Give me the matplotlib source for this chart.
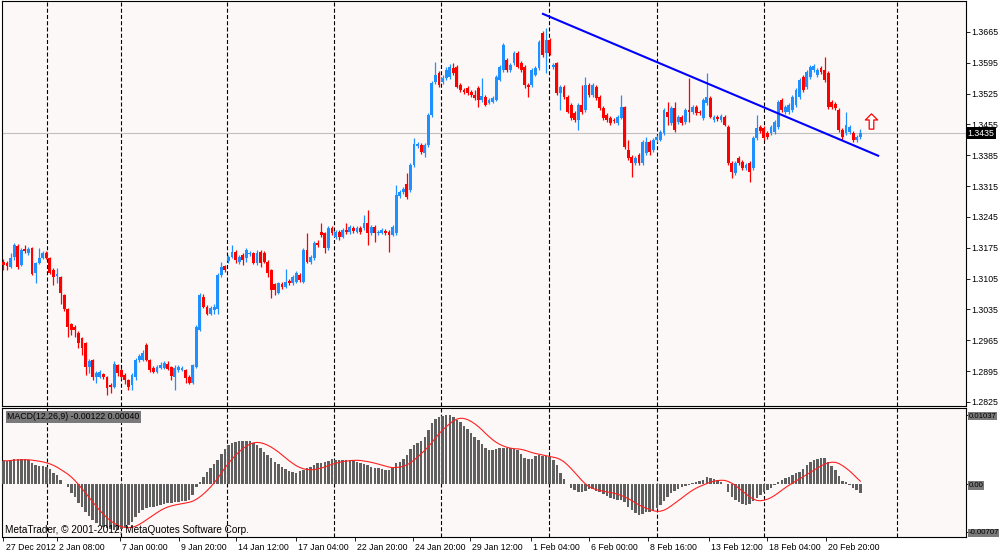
import matplotlib
matplotlib.use('Agg')
import matplotlib.pyplot as plt
import matplotlib.transforms as mtransforms
from matplotlib.path import Path
import numpy as np
import pandas as pd

# --- H4 свечи (O/H/L/C) ---
opens = [
    1.3143, 1.3140, 1.3131, 1.3154, 1.3179, 1.3136, 1.3172, 1.3163, 1.3175, 1.3118,
    1.3140, 1.3152, 1.3163, 1.3152, 1.3125, 1.3111, 1.3109, 1.3068, 1.3036, 1.3002,
    1.2995, 1.2982, 1.2970, 1.2959, 1.2904, 1.2920, 1.2882, 1.2882, 1.2889, 1.2882,
    1.2864, 1.2859, 1.2909, 1.2898, 1.2886, 1.2875, 1.2864, 1.2882, 1.2920, 1.2920,
    1.2954, 1.2920, 1.2902, 1.2893, 1.2902, 1.2902, 1.2911, 1.2904, 1.2882, 1.2898,
    1.2898, 1.2898, 1.2882, 1.2868, 1.2904, 1.2988, 1.3063, 1.3041, 1.3025, 1.3034,
    1.3036, 1.3113, 1.3134, 1.3145, 1.3154, 1.3165, 1.3143, 1.3159, 1.3152, 1.3161,
    1.3163, 1.3140, 1.3165, 1.3163, 1.3143, 1.3125, 1.3093, 1.3072, 1.3093, 1.3086,
    1.3100, 1.3095, 1.3097, 1.3113, 1.3097, 1.3170, 1.3143, 1.3152, 1.3186, 1.3211,
    1.3209, 1.3175, 1.3220, 1.3200, 1.3211, 1.3200, 1.3215, 1.3211, 1.3220, 1.3211,
    1.3220, 1.3220, 1.3231, 1.3209, 1.3222, 1.3209, 1.3209, 1.3213, 1.3211, 1.3204,
    1.3209, 1.3293, 1.3302, 1.3320, 1.3306, 1.3363, 1.3406, 1.3408, 1.3390, 1.3408,
    1.3476, 1.3551, 1.3572, 1.3551, 1.3560, 1.3563, 1.3583, 1.3585, 1.3545, 1.3533,
    1.3538, 1.3529, 1.3522, 1.3538, 1.3510, 1.3517, 1.3504, 1.3506, 1.3510, 1.3556,
    1.3579, 1.3601, 1.3579, 1.3594, 1.3617, 1.3594, 1.3585, 1.3545, 1.3545, 1.3567,
    1.3583, 1.3663, 1.3617, 1.3647, 1.3585, 1.3594, 1.3526, 1.3540, 1.3517, 1.3499,
    1.3481, 1.3465, 1.3499, 1.3488, 1.3545, 1.3522, 1.3540, 1.3517, 1.3492, 1.3476,
    1.3470, 1.3465, 1.3458, 1.3470, 1.3495, 1.3397, 1.3381, 1.3368, 1.3386, 1.3368,
    1.3390, 1.3415, 1.3397, 1.3420, 1.3420, 1.3436, 1.3483, 1.3458, 1.3492, 1.3461,
    1.3472, 1.3461, 1.3488, 1.3483, 1.3495, 1.3483, 1.3470, 1.3504, 1.3515, 1.3465,
    1.3472, 1.3465, 1.3472, 1.3449, 1.3368, 1.3345, 1.3379, 1.3370, 1.3356, 1.3368,
    1.3356, 1.3424, 1.3449, 1.3447, 1.3436, 1.3436, 1.3438, 1.3449, 1.3510, 1.3483,
    1.3483, 1.3488, 1.3499, 1.3517, 1.3563, 1.3540, 1.3563, 1.3579, 1.3567, 1.3583,
    1.3579, 1.3572, 1.3506, 1.3501, 1.3488, 1.3442, 1.3436, 1.3438, 1.3436, 1.3420,
    1.3427,
]
highs = [
    1.3150, 1.3145, 1.3163, 1.3186, 1.3184, 1.3175, 1.3181, 1.3177, 1.3177, 1.3143,
    1.3175, 1.3168, 1.3168, 1.3154, 1.3129, 1.3129, 1.3111, 1.3070, 1.3038, 1.3004,
    1.3000, 1.2986, 1.2972, 1.2961, 1.2923, 1.2923, 1.2895, 1.2898, 1.2891, 1.2884,
    1.2868, 1.2918, 1.2911, 1.2902, 1.2891, 1.2877, 1.2891, 1.2925, 1.2934, 1.2943,
    1.2959, 1.2923, 1.2907, 1.2909, 1.2916, 1.2918, 1.2918, 1.2907, 1.2909, 1.2909,
    1.2907, 1.2900, 1.2886, 1.2911, 1.3000, 1.3072, 1.3070, 1.3045, 1.3043, 1.3047,
    1.3118, 1.3143, 1.3136, 1.3159, 1.3181, 1.3170, 1.3159, 1.3163, 1.3175, 1.3168,
    1.3165, 1.3170, 1.3170, 1.3168, 1.3147, 1.3127, 1.3095, 1.3097, 1.3097, 1.3127,
    1.3104, 1.3113, 1.3122, 1.3118, 1.3175, 1.3209, 1.3159, 1.3190, 1.3193, 1.3231,
    1.3211, 1.3224, 1.3224, 1.3215, 1.3215, 1.3220, 1.3231, 1.3227, 1.3224, 1.3224,
    1.3224, 1.3249, 1.3261, 1.3227, 1.3227, 1.3215, 1.3220, 1.3218, 1.3215, 1.3227,
    1.3318, 1.3306, 1.3313, 1.3345, 1.3368, 1.3424, 1.3415, 1.3413, 1.3413, 1.3481,
    1.3554, 1.3597, 1.3576, 1.3567, 1.3585, 1.3592, 1.3594, 1.3590, 1.3549, 1.3538,
    1.3542, 1.3533, 1.3533, 1.3542, 1.3560, 1.3522, 1.3515, 1.3520, 1.3567, 1.3590,
    1.3640, 1.3606, 1.3594, 1.3622, 1.3622, 1.3599, 1.3590, 1.3549, 1.3583, 1.3588,
    1.3647, 1.3667, 1.3674, 1.3651, 1.3594, 1.3597, 1.3545, 1.3545, 1.3522, 1.3504,
    1.3486, 1.3504, 1.3545, 1.3563, 1.3549, 1.3549, 1.3545, 1.3522, 1.3497, 1.3481,
    1.3474, 1.3470, 1.3476, 1.3522, 1.3497, 1.3420, 1.3386, 1.3383, 1.3390, 1.3420,
    1.3427, 1.3420, 1.3424, 1.3431, 1.3442, 1.3492, 1.3506, 1.3497, 1.3506, 1.3476,
    1.3476, 1.3492, 1.3560, 1.3499, 1.3499, 1.3488, 1.3515, 1.3572, 1.3520, 1.3476,
    1.3476, 1.3479, 1.3476, 1.3454, 1.3372, 1.3372, 1.3383, 1.3374, 1.3368, 1.3372,
    1.3429, 1.3476, 1.3454, 1.3451, 1.3440, 1.3454, 1.3465, 1.3510, 1.3515, 1.3499,
    1.3504, 1.3522, 1.3538, 1.3560, 1.3567, 1.3579, 1.3590, 1.3592, 1.3583, 1.3588,
    1.3608, 1.3576, 1.3510, 1.3506, 1.3492, 1.3447, 1.3483, 1.3454, 1.3440, 1.3431,
    1.3445,
]
lows = [
    1.3125, 1.3125, 1.3129, 1.3147, 1.3127, 1.3134, 1.3163, 1.3159, 1.3113, 1.3095,
    1.3138, 1.3150, 1.3150, 1.3116, 1.3091, 1.3095, 1.3047, 1.3031, 1.2972, 1.2977,
    1.2972, 1.2948, 1.2932, 1.2886, 1.2891, 1.2875, 1.2868, 1.2879, 1.2877, 1.2841,
    1.2845, 1.2857, 1.2884, 1.2877, 1.2866, 1.2852, 1.2852, 1.2875, 1.2916, 1.2918,
    1.2918, 1.2893, 1.2891, 1.2891, 1.2900, 1.2900, 1.2898, 1.2875, 1.2852, 1.2893,
    1.2895, 1.2868, 1.2866, 1.2866, 1.2902, 1.2986, 1.3038, 1.3022, 1.3022, 1.3025,
    1.3025, 1.3109, 1.3120, 1.3140, 1.3152, 1.3140, 1.3138, 1.3136, 1.3143, 1.3156,
    1.3138, 1.3136, 1.3131, 1.3140, 1.3109, 1.3061, 1.3068, 1.3070, 1.3081, 1.3084,
    1.3091, 1.3091, 1.3095, 1.3097, 1.3095, 1.3140, 1.3138, 1.3147, 1.3177, 1.3200,
    1.3163, 1.3170, 1.3204, 1.3195, 1.3193, 1.3197, 1.3206, 1.3206, 1.3209, 1.3209,
    1.3206, 1.3215, 1.3181, 1.3204, 1.3188, 1.3204, 1.3206, 1.3204, 1.3165, 1.3202,
    1.3204, 1.3288, 1.3297, 1.3286, 1.3302, 1.3358, 1.3402, 1.3388, 1.3381, 1.3404,
    1.3472, 1.3547, 1.3540, 1.3547, 1.3556, 1.3558, 1.3567, 1.3538, 1.3529, 1.3524,
    1.3522, 1.3517, 1.3510, 1.3495, 1.3506, 1.3497, 1.3501, 1.3504, 1.3508, 1.3554,
    1.3574, 1.3574, 1.3574, 1.3590, 1.3583, 1.3574, 1.3538, 1.3517, 1.3540, 1.3565,
    1.3579, 1.3608, 1.3572, 1.3613, 1.3581, 1.3522, 1.3488, 1.3513, 1.3481, 1.3465,
    1.3461, 1.3442, 1.3479, 1.3483, 1.3517, 1.3517, 1.3510, 1.3488, 1.3465, 1.3461,
    1.3454, 1.3458, 1.3454, 1.3467, 1.3399, 1.3374, 1.3336, 1.3363, 1.3363, 1.3363,
    1.3386, 1.3386, 1.3392, 1.3415, 1.3417, 1.3431, 1.3454, 1.3454, 1.3438, 1.3456,
    1.3454, 1.3456, 1.3461, 1.3479, 1.3476, 1.3476, 1.3465, 1.3499, 1.3470, 1.3461,
    1.3463, 1.3461, 1.3451, 1.3363, 1.3333, 1.3340, 1.3363, 1.3352, 1.3352, 1.3324,
    1.3352, 1.3420, 1.3436, 1.3420, 1.3422, 1.3431, 1.3433, 1.3445, 1.3483, 1.3479,
    1.3479, 1.3483, 1.3495, 1.3513, 1.3529, 1.3535, 1.3558, 1.3574, 1.3563, 1.3570,
    1.3551, 1.3490, 1.3490, 1.3488, 1.3438, 1.3420, 1.3431, 1.3433, 1.3415, 1.3415,
    1.3422,
]
closes = [
    1.3136, 1.3134, 1.3152, 1.3181, 1.3131, 1.3170, 1.3168, 1.3172, 1.3116, 1.3140,
    1.3152, 1.3163, 1.3152, 1.3118, 1.3109, 1.3116, 1.3072, 1.3036, 1.2995, 1.2988,
    1.2988, 1.2959, 1.2948, 1.2904, 1.2918, 1.2882, 1.2891, 1.2893, 1.2882, 1.2857,
    1.2859, 1.2911, 1.2891, 1.2882, 1.2875, 1.2859, 1.2886, 1.2920, 1.2929, 1.2936,
    1.2920, 1.2898, 1.2893, 1.2904, 1.2909, 1.2914, 1.2900, 1.2884, 1.2902, 1.2904,
    1.2902, 1.2879, 1.2868, 1.2909, 1.2995, 1.3068, 1.3041, 1.3025, 1.3038, 1.3041,
    1.3113, 1.3131, 1.3125, 1.3154, 1.3165, 1.3147, 1.3154, 1.3147, 1.3170, 1.3163,
    1.3140, 1.3163, 1.3140, 1.3143, 1.3118, 1.3079, 1.3079, 1.3095, 1.3086, 1.3097,
    1.3095, 1.3109, 1.3118, 1.3102, 1.3170, 1.3143, 1.3154, 1.3186, 1.3181, 1.3204,
    1.3175, 1.3220, 1.3209, 1.3211, 1.3200, 1.3215, 1.3211, 1.3222, 1.3213, 1.3220,
    1.3211, 1.3231, 1.3209, 1.3222, 1.3209, 1.3211, 1.3215, 1.3209, 1.3204, 1.3222,
    1.3295, 1.3302, 1.3308, 1.3290, 1.3363, 1.3411, 1.3411, 1.3392, 1.3408, 1.3476,
    1.3549, 1.3567, 1.3545, 1.3560, 1.3579, 1.3585, 1.3572, 1.3540, 1.3533, 1.3529,
    1.3526, 1.3522, 1.3515, 1.3510, 1.3520, 1.3499, 1.3510, 1.3515, 1.3563, 1.3585,
    1.3635, 1.3579, 1.3590, 1.3617, 1.3585, 1.3579, 1.3545, 1.3540, 1.3579, 1.3583,
    1.3642, 1.3613, 1.3647, 1.3617, 1.3590, 1.3526, 1.3540, 1.3517, 1.3483, 1.3470,
    1.3465, 1.3499, 1.3483, 1.3545, 1.3522, 1.3545, 1.3515, 1.3492, 1.3470, 1.3465,
    1.3458, 1.3463, 1.3472, 1.3495, 1.3404, 1.3379, 1.3368, 1.3379, 1.3368, 1.3415,
    1.3415, 1.3392, 1.3420, 1.3427, 1.3438, 1.3488, 1.3472, 1.3492, 1.3442, 1.3472,
    1.3458, 1.3488, 1.3483, 1.3495, 1.3481, 1.3481, 1.3510, 1.3517, 1.3472, 1.3472,
    1.3467, 1.3474, 1.3454, 1.3368, 1.3347, 1.3368, 1.3368, 1.3356, 1.3363, 1.3347,
    1.3424, 1.3447, 1.3440, 1.3424, 1.3427, 1.3449, 1.3461, 1.3506, 1.3488, 1.3495,
    1.3499, 1.3517, 1.3533, 1.3556, 1.3533, 1.3574, 1.3585, 1.3588, 1.3579, 1.3574,
    1.3556, 1.3495, 1.3495, 1.3492, 1.3442, 1.3427, 1.3454, 1.3449, 1.3420, 1.3427,
    1.3435,
]

# --- MACD(12,26,9): гистограмма основной линии ---
macd = [
    0.00356, 0.00351, 0.00366, 0.00386, 0.00376, 0.00376, 0.00381, 0.00366, 0.00316, 0.00286,
    0.00277, 0.00277, 0.00267, 0.00227, 0.00177, 0.00137, 0.00067, 0.00007, -0.00032, -0.00122,
    -0.00192, -0.00272, -0.00341, -0.00406, -0.00471, -0.00531, -0.00571, -0.00605, -0.00630, -0.00655,
    -0.00672, -0.00680, -0.00676, -0.00662, -0.00630, -0.00605, -0.00556, -0.00481, -0.00421, -0.00381,
    -0.00356, -0.00341, -0.00331, -0.00321, -0.00306, -0.00296, -0.00281, -0.00272, -0.00262, -0.00257,
    -0.00252, -0.00242, -0.00232, -0.00157, -0.00042, 0.00042, 0.00117, 0.00192, 0.00242, 0.00306,
    0.00366, 0.00456, 0.00526, 0.00590, 0.00625, 0.00640, 0.00650, 0.00650, 0.00650, 0.00645,
    0.00625, 0.00590, 0.00541, 0.00491, 0.00441, 0.00391, 0.00341, 0.00306, 0.00257, 0.00227,
    0.00202, 0.00192, 0.00167, 0.00207, 0.00217, 0.00242, 0.00267, 0.00291, 0.00316, 0.00316,
    0.00331, 0.00351, 0.00376, 0.00366, 0.00366, 0.00366, 0.00366, 0.00366, 0.00356, 0.00341,
    0.00326, 0.00306, 0.00291, 0.00267, 0.00252, 0.00242, 0.00227, 0.00217, 0.00217, 0.00252,
    0.00326, 0.00341, 0.00381, 0.00441, 0.00526, 0.00590, 0.00625, 0.00650, 0.00714, 0.00815,
    0.00914, 0.00979, 0.01013, 0.01030, 0.01037, 0.01035, 0.01013, 0.00964, 0.00929, 0.00879,
    0.00829, 0.00765, 0.00714, 0.00665, 0.00600, 0.00541, 0.00516, 0.00516, 0.00531, 0.00550,
    0.00550, 0.00541, 0.00541, 0.00531, 0.00516, 0.00451, 0.00401, 0.00381, 0.00381, 0.00431,
    0.00441, 0.00431, 0.00426, 0.00416, 0.00366, 0.00291, 0.00167, 0.00082, 0.00003, -0.00047,
    -0.00082, -0.00117, -0.00117, -0.00097, -0.00067, -0.00067, -0.00097, -0.00117, -0.00147, -0.00167,
    -0.00197, -0.00217, -0.00232, -0.00232, -0.00267, -0.00331, -0.00381, -0.00431, -0.00456, -0.00446,
    -0.00416, -0.00406, -0.00396, -0.00356, -0.00306, -0.00247, -0.00182, -0.00132, -0.00097, -0.00067,
    -0.00042, -0.00022, -0.00007, 0.00017, 0.00032, 0.00052, 0.00067, 0.00117, 0.00102, 0.00082,
    0.00067, 0.00032, 0.00003, -0.00117, -0.00182, -0.00232, -0.00267, -0.00296, -0.00306, -0.00296,
    -0.00247, -0.00207, -0.00157, -0.00117, -0.00082, -0.00057, -0.00007, 0.00032, 0.00067, 0.00102,
    0.00117, 0.00142, 0.00167, 0.00192, 0.00232, 0.00291, 0.00331, 0.00366, 0.00381, 0.00391,
    0.00391, 0.00331, 0.00282, 0.00217, 0.00132, 0.00052, 0.00032, -0.00007, -0.00057, -0.00087,
    -0.00122,
]

price_ticks = [1.3665, 1.3595, 1.3525, 1.3455, 1.3385, 1.3315, 1.3245,
               1.3175, 1.3105, 1.3035, 1.2965, 1.2895, 1.2825]
last_price = 1.3435
macd_ticks = [0.01037, 0.0, -0.00707]
macd_tick_labels = ['0.01037', '0.00', '-0.00707']

date_labels = ['27 Dec 2012', '2 Jan 08:00', '7 Jan 00:00', '9 Jan 20:00', '14 Jan 12:00',
               '17 Jan 04:00', '22 Jan 20:00', '24 Jan 20:00', '29 Jan 12:00', '1 Feb 04:00',
               '6 Feb 00:00', '8 Feb 16:00', '13 Feb 12:00', '18 Feb 04:00', '20 Feb 20:00']
date_pos = [0, 15, 32.6, 49.2, 65.1, 81.9, 98.5, 114.7, 130.7, 147.8,
            164.0, 180.5, 197.6, 213.9, 230.4]

# разделители периодов (индекс бара)
separators = [12.3, 32.8, 62.7, 92.6, 122.5, 152.8, 183.1, 213.0, 250.2]

# трендовая линия и стрелка
trend_x = [151.1, 245.0]
trend_y = [1.3706, 1.3384]
arrow_x = 243.0
arrow_y = 1.3463

BLUE = '#1e90ff'
RED = '#ff0000'
BG = '#fcf8f7'

plt.rcParams['font.family'] = ['Liberation Sans', 'DejaVu Sans']
plt.rcParams['lines.scale_dashes'] = False

W, H = 1000, 553
fig = plt.figure(figsize=(W / 100, H / 100), dpi=100, facecolor='white')
left, right = 2 / W, 965.5 / W
ax = fig.add_axes([left, (H - 405.5) / H, right - left, 404.5 / H], facecolor=BG)
ax2 = fig.add_axes([left, (H - 537) / H, right - left, 129.5 / H], facecolor=BG)
x_max = (965.5 - 3.5) / 3.57

o = np.array(opens)
h = np.array(highs)
l = np.array(lows)
c = np.array(closes)
x = np.arange(len(c))
cols = np.where(c >= o, BLUE, RED)

# разделители периодов
for a in (ax, ax2):
    for s in separators:
        a.axvline(s, color='black', lw=0.8, dashes=(2.9, 1.6), zorder=1)

# линия текущей цены
ax.axhline(last_price, color='#c0c0c0', lw=0.8, zorder=1)

# свечи
ax.vlines(x, l, h, colors=cols, lw=0.9, zorder=3)
body_h = np.maximum(np.abs(c - o), 0.00012)
ax.bar(x, body_h, bottom=np.minimum(o, c), width=0.8, color=cols, lw=0, zorder=4)

# трендовая линия
ax.plot(trend_x, trend_y, color='#0000ff', lw=1.5, zorder=5)

# стрелка вверх
arrow = Path([(0, 1), (0.8, 0.2), (0.3, 0.2), (0.3, -1), (-0.3, -1), (-0.3, 0.2), (-0.8, 0.2), (0, 1)],
             [Path.MOVETO] + [Path.LINETO] * 6 + [Path.CLOSEPOLY])
ax.plot([arrow_x], [arrow_y], marker=arrow, markersize=11, markerfacecolor='white',
        markeredgecolor=RED, markeredgewidth=0.9, linestyle='none', zorder=6)

ax.set_xlim(-0.42, x_max)
ax.set_ylim(1.2817, 1.37352)
ax.set_yticks(price_ticks)
ax.set_yticklabels([f'{v:.4f}' for v in price_ticks])
ax.tick_params(axis='y', left=False, labelleft=False, right=True, labelright=True,
               length=3, width=0.6, pad=1.5, labelsize=6.3)
ax.tick_params(axis='x', bottom=False, labelbottom=False)

# метка текущей цены
ax.text(1.0 + 2 / 962, last_price, f'{last_price:.4f}', transform=ax.get_yaxis_transform(),
        ha='left', va='center', fontsize=6.3, color='white', clip_on=False, zorder=10,
        bbox=dict(facecolor='black', edgecolor='none', pad=1.2))

# MACD
signal = pd.Series(macd).rolling(9, min_periods=1).mean()
ax2.bar(x, macd, width=0.7, color='#5f5f5f', lw=0, zorder=3)
ax2.plot(x, signal, color='#ff2020', lw=0.8, zorder=4)
ax2.set_xlim(-0.42, x_max)
ax2.set_ylim(-0.00785, 0.01151)
ax2.set_yticks(macd_ticks)
ax2.set_yticklabels(macd_tick_labels)
ax2.tick_params(axis='y', left=False, labelleft=False, right=True, labelright=True,
                length=1.5, width=0.6, pad=0.6, labelsize=5.6)
for lbl in ax2.get_yticklabels():
    lbl.set_bbox(dict(facecolor='#7a7a7a', edgecolor='none', pad=0.4))

ax2.set_xticks(date_pos)
ax2.set_xticklabels(date_labels)
ax2.tick_params(axis='x', length=3, width=0.6, pad=1.5, labelsize=6.3)
shift = mtransforms.ScaledTranslation(1.5 / 72, 0, fig.dpi_scale_trans)
for lbl in ax2.get_xticklabels():
    lbl.set_ha('left')
    lbl.set_transform(lbl.get_transform() + shift)

ax2.text(5 / 962, 0.929, 'MACD(12,26,9) -0.00122 0.00040', transform=ax2.transAxes,
         ha='left', va='center', fontsize=6.3, color='black', zorder=10,
         bbox=dict(facecolor='#7a7a7a', edgecolor='none', pad=1.0))
ax2.text(3 / 962, 0.054, 'MetaTrader, © 2001-2012, MetaQuotes Software Corp.',
         transform=ax2.transAxes, ha='left', va='center', fontsize=7.2, color='black', zorder=10)

for a in (ax, ax2):
    for sp in a.spines.values():
        sp.set_color('black')
        sp.set_linewidth(0.8)

fig.savefig('out.png', dpi=100, facecolor='white')
